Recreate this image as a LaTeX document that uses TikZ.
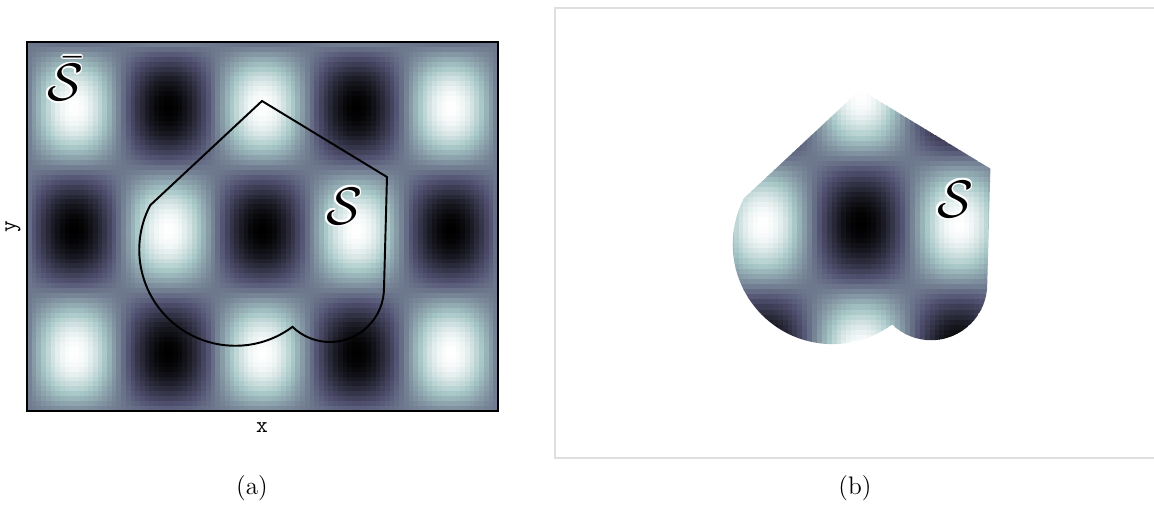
\documentclass[tikz,border=0pt]{standalone}
\usepackage{tikz}
\usetikzlibrary{calc}

\definecolor{bonea}{rgb}{0.319,0.319,0.444}
\definecolor{boneb}{rgb}{0.652,0.777,0.777}

% white glow behind a set name
\newcommand{\halo}[1]{%
    \foreach \hx/\hy in {0.3/0,-0.3/0,0/0.3,0/-0.3,0.21/0.21,-0.21/0.21,0.21/-0.21,-0.21/-0.21}{%
        \rlap{\kern\hx pt\raise\hy pt\hbox{\color{white}#1}}}%
    \hbox{\color{black}#1}}

% region S (picture units)
\newcommand{\heartpath}{(262,406) -- (387,330) -- (384,219) arc[start angle=0, end angle=-134, radius=54] arc[start angle=-53.4, end angle=-207.6, radius=96] -- cycle}

% cells of sin(pi x) sin(pi y), bone colours, in data units
\newcommand{\fieldcells}[4]{%
    \foreach \i in {#1,...,#2}{%
        \pgfmathsetmacro\sx{sin((\i+0.5)*9)}%
        \foreach \j in {#3,...,#4}{%
            \pgfmathsetmacro\tv{(\sx*sin((\j+0.5)*7.2+6)+1)/2}%
            \ifdim\tv pt<0.375pt
                \pgfmathsetmacro\pct{max(0,min(100,\tv/0.375*100))}%
                \colorlet{cellc}{bonea!\pct!black}%
            \else\ifdim\tv pt<0.75pt
                \pgfmathsetmacro\pct{max(0,min(100,(\tv-0.375)/0.375*100))}%
                \colorlet{cellc}{boneb!\pct!bonea}%
            \else
                \pgfmathsetmacro\pct{max(0,min(100,(\tv-0.75)/0.25*100))}%
                \colorlet{cellc}{white!\pct!boneb}%
            \fi\fi
            \fill[cellc] (\i*0.05,\j*0.04) rectangle ++(0.052,0.042);
        }%
    }%
}

\begin{document}
\begin{tikzpicture}[x=0.02cm, y=0.02cm,
    heartline/.style={line width=1.1pt, black},
    setlabel/.style={inner sep=0pt, scale=3},
    axislabel/.style={font=\fontsize{13}{15}\selectfont\ttfamily},
    caption/.style={font=\Large}
]
\useasboundingbox (0,0) rectangle (1154,507);

% (a) whole field
\begin{scope}
\clip (27,96) rectangle (498,465);
\begin{scope}[shift={(27,96)}, xscale=94.2, yscale=123]
\fieldcells{0}{99}{0}{74}
\end{scope}
\end{scope}
\draw[line width=1.2pt] (27,96) rectangle (498,465);
\draw[heartline] \heartpath;

\node[axislabel] (xlab) at (262,79) {x};
\node[axislabel, rotate=90] (ylab) at (13,280) {y};
\node[setlabel] (sbar) at (65,428) {\halo{$\bar{\mathcal{S}}$}};
\node[setlabel] (sa) at (344,301) {\halo{$\mathcal{S}$}};

% (b) field restricted to S
\draw[gray!25, line width=0.6pt] (555,49) rectangle (1170,499);
\begin{scope}
\clip[shift={(587.9,-4.84)}, scale=1.04] \heartpath;
\begin{scope}[shift={(616,95)}, xscale=98, yscale=128]
\fieldcells{20}{79}{9}{69}
\end{scope}
\end{scope}
\node[setlabel] (sb) at (955,308) {\halo{$\mathcal{S}$}};

\node[caption] (capa) at (252,19) {(a)};
\node[caption] (capb) at (855,19) {(b)};
\end{tikzpicture}
\end{document}
